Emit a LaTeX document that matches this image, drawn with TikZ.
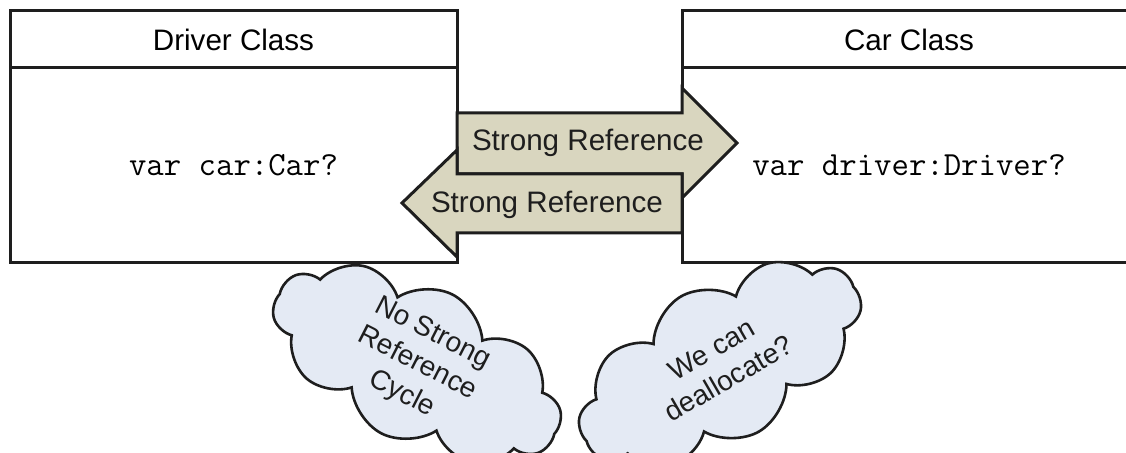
\documentclass[tikz,border=0pt]{standalone}
\usepackage{fontspec}
\setsansfont{Liberation Sans}
\usetikzlibrary{positioning, shapes.symbols}
\definecolor{refbeige}{RGB}{217,214,191}
\definecolor{thoughtblue}{RGB}{228,234,244}
\definecolor{inkgray}{RGB}{30,30,30}
\tikzset{
  classhead/.style={draw=inkgray, line width=1.5pt, outer sep=0pt, fill=white,
                    minimum height=28.5pt, inner sep=0pt,
                    font=\sffamily\fontsize{14.8}{17}\selectfont},
  classbody/.style={classhead, minimum height=97.5pt,
                    font=\ttfamily\fontsize{16.9}{19}\selectfont},
  refarrow/.style={draw=inkgray, line width=1.5pt, fill=refbeige, line join=miter},
  reflabel/.style={font=\sffamily\fontsize{14.8}{17}\selectfont, text=inkgray},
  thought/.style={cloud, cloud puffs=10, cloud puff arc=120, draw=inkgray, line width=1.3pt,
                  fill=thoughtblue, inner sep=0pt, minimum width=156pt, minimum height=78pt},
  thoughttext/.style={align=center, inner sep=0pt,
                      font=\sffamily\fontsize{14}{17}\selectfont, text=inkgray},
}

\begin{document}
\begin{tikzpicture}[x=0.5pt, y=-0.5pt]
  \clip (0,0) rectangle (1126,453);
  \fill[white] (0,0) rectangle (1126,453);

  % the two classes
  \node[classhead, minimum width=223.5pt] (drvhead) at (233.5,39.5) {Driver Class};
  \node[classbody, minimum width=223.5pt, below=0pt of drvhead] (drvbody) {var car:Car?};
  \node[classhead, minimum width=227pt] (carhead) at (909,39.5) {Car Class};
  \node[classbody, minimum width=227pt, below=0pt of carhead] (carbody) {var driver:Driver?};

  % strong references both ways
  \draw[refarrow] (457,113) -- (682,113) -- (682,88) -- (737,143) -- (682,198)
                  -- (682,174) -- (457,174) -- cycle;
  \draw[refarrow] (682,174) -- (457,174) -- (457,150) -- (402,203) -- (457,257)
                  -- (457,233) -- (682,233) -- cycle;
  \node[reflabel] (refto) at (588,143) {Strong Reference};
  \node[reflabel] (refback) at (547,205) {Strong Reference};

  % thoughts
  \node[thought, rotate=-27] (nocycle) at (417,364) {};
  \node[thoughttext, rotate=-27] (nocycletext) at (nocycle.center) {No Strong\\Reference\\Cycle};
  \node[thought, rotate=30] (dealloc) at (720,364) {};
  \node[thoughttext, rotate=30] (dealloctext) at (dealloc.center) {We can\\deallocate?};
\end{tikzpicture}
\end{document}
